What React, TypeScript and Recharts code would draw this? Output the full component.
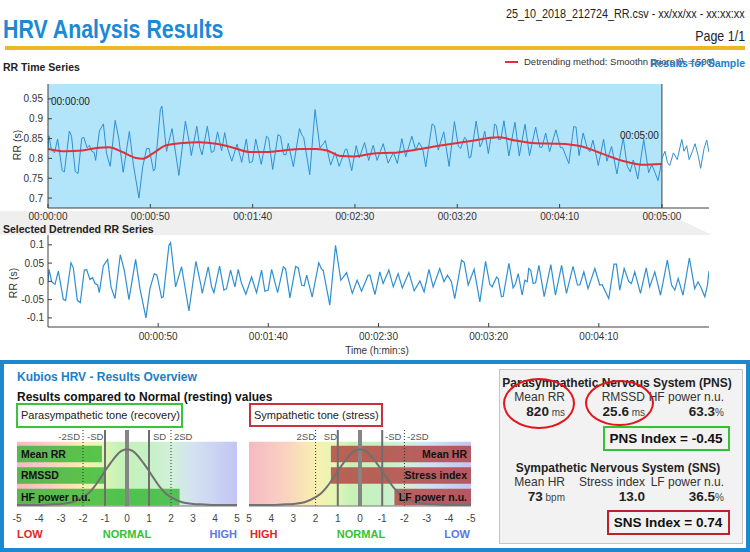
import React from 'react';
import {
  LineChart,
  ComposedChart,
  Line,
  XAxis,
  YAxis,
  ReferenceArea,
  ReferenceLine,
} from 'recharts';

// beat times (s) of the selected 0-300 s window
const beatTime = [
  0, 0.45, 1.66, 3.18, 4.69, 6.96, 8.01, 10.43, 11.49, 13.31,
  14.67, 16.48, 17.54, 19.05, 20.26, 21.32, 22.53, 23.29, 25.1, 27.07,
  28.58, 30.4, 32.81, 34.63, 36.74, 39.77, 41.73, 44.45, 46.27, 48.23,
  49.44, 51.56, 52.32, 54.89, 55.64, 57.91, 60.63, 63.96, 67.13, 69.4,
  70.0, 72.73, 74.24, 75.3, 77.87, 79.83, 81.04, 82.86, 84.82, 86.34,
  87.85, 89.81, 92.38, 94.65, 96.92, 98.43, 99.94, 101.5, 104.2, 106.8,
  107.8, 109.8, 112.4, 113.6, 115.1, 116.3, 117.4, 119.9, 122.9, 124.2,
  124.9, 127.9, 130.5, 132.9, 134.7, 135.5, 138.1, 140.3, 142.3, 145.3,
  146.1, 148.4, 150.6, 152.1, 154.7, 156.7, 158.9, 160.8, 163.8, 166.2,
  168.8, 170.7, 172.9, 174.8, 177.8, 179.7, 181.3, 183.1, 184.6, 187.7,
  188.9, 190.7, 193.4, 196.0, 198.6, 200.5, 201.6, 203.6, 204.3, 205.8,
  206.6, 209.2, 211.1, 212.2, 213.4, 215.2, 216.4, 217.5, 218.2, 219.1,
  220.2, 221.3, 222.8, 225.2, 228.2, 230.3, 233.1, 235.3, 238.3, 240.3,
  241.4, 243.2, 245.1, 248.2, 250.4, 251.5, 254.5, 256.9, 258.0, 259.5,
  261.5, 263.6, 264.8, 266.3, 268.9, 271.5, 273.1, 275.4, 278.0, 281.1,
  283.0, 284.5, 286.0, 288.2, 291.1, 293.5, 295.0, 296.2, 298.1, 299.3,
  300,
];

// RR intervals (s)
const rawRR = [
  0.824, 0.857, 0.822, 0.814, 0.849, 0.769, 0.766, 0.869, 0.856, 0.767,
  0.762, 0.851, 0.853, 0.827, 0.833, 0.818, 0.815, 0.795, 0.869, 0.887,
  0.813, 0.780, 0.896, 0.849, 0.765, 0.868, 0.784, 0.700, 0.779, 0.825,
  0.825, 0.768, 0.774, 0.923, 0.932, 0.818, 0.875, 0.757, 0.894, 0.830,
  0.807, 0.881, 0.826, 0.809, 0.881, 0.815, 0.818, 0.867, 0.819, 0.865,
  0.824, 0.793, 0.836, 0.790, 0.849, 0.789, 0.792, 0.849, 0.785, 0.856,
  0.851, 0.772, 0.860, 0.856, 0.810, 0.809, 0.838, 0.779, 0.875, 0.857,
  0.854, 0.759, 0.923, 0.826, 0.838, 0.845, 0.783, 0.815, 0.780, 0.823,
  0.823, 0.769, 0.832, 0.801, 0.840, 0.795, 0.833, 0.795, 0.837, 0.788,
  0.815, 0.787, 0.850, 0.804, 0.856, 0.821, 0.840, 0.824, 0.779, 0.887,
  0.882, 0.821, 0.867, 0.780, 0.893, 0.831, 0.825, 0.853, 0.850, 0.801,
  0.803, 0.894, 0.829, 0.841, 0.869, 0.812, 0.853, 0.850, 0.887, 0.882,
  0.847, 0.848, 0.895, 0.806, 0.891, 0.806, 0.886, 0.807, 0.879, 0.828,
  0.828, 0.864, 0.817, 0.872, 0.827, 0.827, 0.787, 0.880, 0.879, 0.807,
  0.864, 0.824, 0.817, 0.846, 0.782, 0.848, 0.793, 0.830, 0.761, 0.852,
  0.781, 0.766, 0.796, 0.748, 0.848, 0.764, 0.784, 0.770, 0.744, 0.776,
  0.800,
];

// detrended RR (s)
const detrendedRR = [
  0.000, 0.033, -0.001, -0.008, 0.028, -0.050, -0.052, 0.051, 0.037, -0.052,
  -0.058, 0.031, 0.032, 0.005, 0.010, -0.006, -0.010, -0.031, 0.042, 0.060,
  -0.015, -0.047, 0.073, 0.030, -0.050, 0.060, -0.020, -0.100, -0.020, 0.021,
  0.017, -0.045, -0.042, 0.099, 0.106, -0.015, 0.040, -0.081, 0.055, -0.010,
  -0.033, 0.040, -0.015, -0.031, 0.042, -0.024, -0.020, 0.031, -0.015, 0.033,
  -0.006, -0.035, 0.012, -0.031, 0.031, -0.027, -0.024, 0.033, -0.031, 0.040,
  0.035, -0.045, 0.041, 0.037, -0.010, -0.012, 0.017, -0.043, 0.051, 0.033,
  0.030, -0.065, 0.099, 0.003, 0.017, 0.024, -0.033, 0.003, -0.027, 0.017,
  0.017, -0.036, 0.026, -0.006, 0.031, -0.015, 0.021, -0.018, 0.024, -0.026,
  0.001, -0.029, 0.033, -0.015, 0.035, -0.001, 0.017, -0.001, -0.047, 0.058,
  0.052, -0.010, 0.033, -0.056, 0.055, -0.008, -0.015, 0.012, 0.008, -0.042,
  -0.041, 0.049, -0.018, -0.006, 0.021, -0.038, 0.003, -0.001, 0.035, 0.030,
  -0.006, -0.004, 0.044, -0.042, 0.046, -0.038, 0.044, -0.033, 0.041, -0.010,
  -0.010, 0.026, -0.020, 0.035, -0.010, -0.009, -0.047, 0.047, 0.047, -0.024,
  0.035, -0.001, -0.006, 0.026, -0.033, 0.037, -0.015, 0.026, -0.038, 0.058,
  -0.010, -0.024, 0.008, -0.038, 0.064, -0.020, -0.001, -0.015, -0.042, -0.010,
  0.028,
];

// beats after the selected window
const tailTime = [301.5, 302.7, 303.8, 305.6, 307.5, 309.7, 310.8, 312.1, 313.3, 314.9, 316.2, 317.8, 318.9, 320.6, 321.9, 323];
const tailRR = [0.818, 0.789, 0.782, 0.814, 0.797, 0.848, 0.818, 0.832, 0.797, 0.818, 0.837, 0.805, 0.775, 0.825, 0.846, 0.815];

// smoothness priors trend
const trendTime = [0, 8.5, 16.7, 24.9, 29.8, 36.4, 43, 46.2, 51.1, 57.7, 65.9, 74.1, 82.3, 90.5, 98.7, 106.9, 115.1, 123.3, 131.5, 136.4, 143, 149.5, 160.2, 168.3, 179.7, 192.7, 205.7, 220.3, 228.5, 238.2, 249.6, 261, 270.7, 282.1, 290.2, 300];
const trendRR = [0.824, 0.818, 0.820, 0.827, 0.828, 0.816, 0.801, 0.799, 0.812, 0.833, 0.839, 0.841, 0.837, 0.827, 0.816, 0.816, 0.820, 0.824, 0.824, 0.820, 0.806, 0.805, 0.813, 0.814, 0.822, 0.833, 0.843, 0.853, 0.845, 0.838, 0.837, 0.830, 0.812, 0.792, 0.784, 0.786];

const rrTicks = [0.7, 0.75, 0.8, 0.85, 0.9, 0.95];
const rrTickLabels = ['0.7', '0.75', '0.8', '0.85', '0.9', '0.95'];
const detTicks = [-0.1, -0.05, 0, 0.05, 0.1];
const detTickLabels = ['-0.1', '-0.05', '0', '0.05', '0.1'];
const timeTicks = [0, 50, 100, 150, 200, 250, 300];
const timeTickLabels = ['00:00:00', '00:00:50', '00:01:40', '00:02:30', '00:03:20', '00:04:10', '00:05:00'];
const detTimeTicks = [50, 100, 150, 200, 250];

// gauges
const scoreTicks = [-5, -4, -3, -2, -1, 0, 1, 2, 3, 4, 5];
const curveX = [-5, -4.5, -4, -3.5, -3, -2.5, -2, -1.75, -1.5, -1.25, -1, -0.75, -0.5, -0.25, 0, 0.25, 0.5, 0.75, 1, 1.25, 1.5, 1.75, 2, 2.5, 3, 3.5, 4, 4.5, 5];
const curveY = [0, 0, 0, 0.01, 0.02, 0.05, 0.14, 0.21, 0.32, 0.46, 0.61, 0.75, 0.88, 0.97, 1, 0.97, 0.88, 0.75, 0.61, 0.46, 0.32, 0.21, 0.14, 0.05, 0.02, 0.01, 0, 0, 0];
const pnsParams = ['Mean RR', 'RMSSD', 'HF power n.u.'];
const pnsScores = [-1.14, -1.03, 2.39];
const snsParams = ['Mean HR', 'Stress index', 'LF power n.u.'];
const snsScores = [1.31, 1.31, -1.55];

const SANS = '"Liberation Sans", Arial, sans-serif';
const AXIS = '#404040';
const RR_BLUE = '#2f8fd0';

const rrData = beatTime.map((t, i) => ({ t, v: rawRR[i] })).concat(tailTime.map((t, i) => ({ t, v: tailRR[i] })));
const trendData = trendTime.map((t, i) => ({ t, v: trendRR[i] }));
const detData = beatTime.map((t, i) => ({ t, v: detrendedRR[i] }));
const curveData = curveX.map((x, i) => ({ x, y: curveY[i] }));

const lab = (ticks: number[], labels: string[]) => (v: number) => labels[ticks.indexOf(v)] ?? '';

type TxtProps = {
  x: number; y: number; a?: 'left' | 'right' | 'center'; s?: number; c?: string;
  b?: boolean; sx?: number; w?: number; children: React.ReactNode;
};
// absolutely placed text, y is the line centre; sx squeezes it like a narrow face
const Txt = ({ x, y, a = 'left', s = 12, c = '#222', b = false, sx = 1, w = 400, children }: TxtProps) => {
  const st: React.CSSProperties = {
    position: 'absolute', top: y - 10, height: 20, lineHeight: '20px', fontSize: s, color: c,
    fontWeight: b ? 700 : 400, whiteSpace: 'nowrap', fontFamily: SANS,
  };
  if (a === 'left') st.left = x;
  else if (a === 'right') st.right = 750 - x;
  else { st.left = x - w / 2; st.width = w; st.textAlign = 'center'; }
  if (sx !== 1) {
    st.transform = `scaleX(${sx})`;
    st.transformOrigin = a === 'right' ? 'right center' : a === 'left' ? 'left center' : 'center center';
  }
  return <div style={st}>{children}</div>;
};

const Box = ({ l, t, w, h, c, bw = 2 }: { l: number; t: number; w: number; h: number; c: string; bw?: number }) => (
  <div style={{ position: 'absolute', left: l, top: t, width: w, height: h, border: `${bw}px solid ${c}`, boxSizing: 'border-box' }} />
);

const Ellipse = ({ l, t, w, h }: { l: number; t: number; w: number; h: number }) => (
  <div style={{ position: 'absolute', left: l, top: t, width: w, height: h, border: '2.5px solid #e3151b', borderRadius: '50%', boxSizing: 'border-box' }} />
);

const tickStyle = { fontSize: 10, fill: '#333' };

const Gauge = ({ params, scores, reversed, left, width, ml, mr, barColor, gid }: {
  params: string[]; scores: number[]; reversed: boolean; left: number; width: number;
  ml: number; mr: number; barColor: string; gid: string;
}) => (
  <div style={{ position: 'absolute', left, top: 420 }}>
    <ComposedChart width={width} height={106} data={curveData} margin={{ top: 10, right: mr, left: ml, bottom: 0 }}>
      <defs>
        <linearGradient id={gid} x1="0" y1="0" x2="1" y2="0">
          <stop offset="0" stopColor="#f5b9c2" />
          <stop offset="0.15" stopColor="#f9d0c2" />
          <stop offset="0.3" stopColor="#f9efb0" />
          <stop offset="0.38" stopColor="#e6f6b4" />
          <stop offset="0.46" stopColor="#c6f2b8" />
          <stop offset="0.6" stopColor="#c6f1c6" />
          <stop offset="0.7" stopColor="#d2f0d8" />
          <stop offset="0.8" stopColor="#d3e2f2" />
          <stop offset="1" stopColor="#c3c5f3" />
        </linearGradient>
      </defs>
      <XAxis dataKey="x" type="number" domain={[-5, 5]} ticks={scoreTicks} reversed={reversed} allowDataOverflow
        tickLine={false} tickMargin={3} stroke="#777" tick={{ fontSize: 10, fill: '#444' }} height={20} interval={0} />
      <YAxis yAxisId="curve" hide domain={[-0.018, 1.346]} allowDataOverflow />
      <YAxis yAxisId="rows" hide reversed domain={[-0.546, 3]} allowDataOverflow />
      <ReferenceArea yAxisId="rows" x1={-5} x2={5} y1={0} y2={3} fill={`url(#${gid})`} fillOpacity={1} />
      {scores.map((s, i) => (
        <ReferenceArea key={params[i]} yAxisId="rows" x1={-5} x2={s} y1={i + 0.19} y2={i + 0.96}
          fill={barColor} fillOpacity={0.78}
          label={{ value: params[i], position: reversed ? 'insideRight' : 'insideLeft', offset: 4, fill: '#111', fontSize: 10.5, fontWeight: 700 }} />
      ))}
      <ReferenceLine yAxisId="rows" x={-2} stroke="#333" strokeDasharray="1 2" />
      <ReferenceLine yAxisId="rows" x={2} stroke="#333" strokeDasharray="1 2" />
      <ReferenceLine yAxisId="rows" x={-1} stroke="#6e6e6e" strokeWidth={2} />
      <ReferenceLine yAxisId="rows" x={1} stroke="#6e6e6e" strokeWidth={2} />
      <ReferenceLine yAxisId="rows" x={0} stroke="#858585" strokeWidth={4} />
      <Line yAxisId="curve" dataKey="y" type="monotone" stroke="#707070" strokeWidth={2} dot={false} isAnimationActive={false} />
    </ComposedChart>
  </div>
);

export default function App() {
  return (
    <div style={{ position: 'absolute', left: 0, top: 0, width: 750, height: 552, background: '#fff', overflow: 'hidden', fontFamily: SANS }}>
      {/* header */}
      <Txt x={3} y={29} s={26} b c="#1a8ad6" sx={0.82}>HRV Analysis Results</Txt>
      <Txt x={745} y={14} a="right" s={13} c="#222" sx={0.83}>25_10_2018_212724_RR.csv - xx/xx/xx - xx:xx:xx</Txt>
      <Txt x={745} y={36} a="right" s={15} c="#222" sx={0.83}>Page 1/1</Txt>
      <div style={{ position: 'absolute', left: 5, top: 46, width: 740, height: 4, background: '#e9b824' }} />

      {/* RR time series */}
      <Txt x={3} y={67} s={10.5} b>RR Time Series</Txt>
      <div style={{ position: 'absolute', left: 505, top: 61, width: 13, height: 2, background: '#e0303a' }} />
      <Txt x={524} y={62} s={9.5} c="#333">Detrending method: Smoothn priors (λ = 500)</Txt>
      <Txt x={745} y={63} a="right" s={10.5} b c="#1a7fcf">Results for Sample</Txt>

      <div style={{ position: 'absolute', left: 0, top: 211, width: 712, height: 24, background: '#efefef', clipPath: 'polygon(0 0, 662px 0, 712px 100%, 0 100%)' }} />

      <div style={{ position: 'absolute', left: 0, top: 70 }}>
        <LineChart width={720} height={160} margin={{ top: 14, right: 11, left: 0, bottom: 0 }}>
          <XAxis xAxisId="b" type="number" dataKey="t" domain={[0, 323]} ticks={timeTicks} interval={0}
            tickFormatter={lab(timeTicks, timeTickLabels)} height={22} stroke={AXIS} tickSize={-4} tickMargin={9} tick={tickStyle} allowDataOverflow />
          <XAxis xAxisId="top" orientation="top" type="number" dataKey="t" domain={[0, 323]} ticks={timeTicks.slice(1)} interval={0}
            tick={false} height={0} stroke={AXIS} tickSize={-4} allowDataOverflow />
          <YAxis yAxisId="l" type="number" domain={[0.675, 0.9875]} ticks={rrTicks} interval={0}
            tickFormatter={lab(rrTicks, rrTickLabels)} width={48} stroke={AXIS} tickSize={-4} tickMargin={9} tick={tickStyle} allowDataOverflow />
          <YAxis yAxisId="r" orientation="right" type="number" domain={[0.675, 0.9875]} ticks={rrTicks} interval={0}
            tick={false} width={0} stroke={AXIS} tickSize={-4} allowDataOverflow />
          <ReferenceArea xAxisId="b" yAxisId="l" x1={0} x2={300} fill="#b3e5fa" fillOpacity={1} />
          <ReferenceLine xAxisId="b" yAxisId="l" x={300} stroke={AXIS} />
          <Line xAxisId="b" yAxisId="l" data={rrData} dataKey="v" type="linear" stroke={RR_BLUE} strokeWidth={1} dot={false} isAnimationActive={false} />
          <Line xAxisId="b" yAxisId="l" data={trendData} dataKey="v" type="monotone" stroke="#e0303a" strokeWidth={2} dot={false} isAnimationActive={false} />
        </LineChart>
      </div>
      <Txt x={51} y={102} s={10}>00:00:00</Txt>
      <Txt x={620} y={136} s={10}>00:05:00</Txt>
      <div style={{ position: 'absolute', left: 17, top: 145, transform: 'translate(-50%, -50%) rotate(-90deg)', fontSize: 10.5, color: '#333', whiteSpace: 'nowrap' }}>RR (s)</div>

      {/* detrended series */}
      <Txt x={3} y={229} s={10.5} b>Selected Detrended RR Series</Txt>
      <div style={{ position: 'absolute', left: 0, top: 225 }}>
        <LineChart width={720} height={125} margin={{ top: 10, right: 11, left: 0, bottom: 0 }}>
          <XAxis xAxisId="b" type="number" dataKey="t" domain={[0, 300]} ticks={detTimeTicks} interval={0}
            tickFormatter={lab(timeTicks, timeTickLabels)} height={23} stroke={AXIS} tickSize={-4} tickMargin={10} tick={tickStyle} allowDataOverflow />
          <XAxis xAxisId="top" orientation="top" type="number" dataKey="t" domain={[0, 300]} ticks={detTimeTicks} interval={0}
            tick={false} height={0} stroke={AXIS} tickSize={-4} allowDataOverflow />
          <YAxis yAxisId="l" type="number" domain={[-0.125, 0.127]} ticks={detTicks} interval={0}
            tickFormatter={lab(detTicks, detTickLabels)} width={48} stroke={AXIS} tickSize={-4} tickMargin={8} tick={tickStyle} allowDataOverflow />
          <YAxis yAxisId="r" orientation="right" type="number" domain={[-0.125, 0.127]} ticks={detTicks} interval={0}
            tick={false} width={0} stroke={AXIS} tickSize={-4} allowDataOverflow />
          <Line xAxisId="b" yAxisId="l" data={detData} dataKey="v" type="linear" stroke={RR_BLUE} strokeWidth={1.2} dot={false} isAnimationActive={false} />
        </LineChart>
      </div>
      <div style={{ position: 'absolute', left: 13, top: 283, transform: 'translate(-50%, -50%) rotate(-90deg)', fontSize: 10.5, color: '#333', whiteSpace: 'nowrap' }}>RR (s)</div>
      <Txt x={377} y={351} a="center" s={10} c="#333">Time (h:min:s)</Txt>

      {/* results overview panel */}
      <div style={{ position: 'absolute', left: 0, top: 360, width: 750, height: 192, border: '4px solid #1e88cf', boxSizing: 'border-box' }} />
      <Txt x={17} y={377} s={12} b c="#1c7ec8">Kubios HRV - Results Overview</Txt>
      <Txt x={17} y={397} s={12} b c="#111">Results compared to Normal (resting) values</Txt>
      <Box l={16} t={403} w={167} h={25} c="#3cc23c" />
      <Txt x={21} y={415} s={11} c="#222">Parasympathetic tone (recovery)</Txt>
      <Box l={249} t={403} w={134} h={24} c="#c8323c" />
      <Txt x={254} y={415} s={11} c="#222">Sympathetic tone (stress)</Txt>

      <Gauge params={pnsParams} scores={pnsScores} reversed={false} left={0} width={250} ml={17} mr={13} barColor="#2fb52f" gid="gradPns" />
      <Gauge params={snsParams} scores={snsScores} reversed left={240} width={245} ml={9} mr={14} barColor="#b03838" gid="gradSns" />

      <Txt x={80} y={437} a="right" s={9.5} c="#555">-2SD</Txt>
      <Txt x={87} y={437} s={9.5} c="#555">-SD</Txt>
      <Txt x={153} y={437} s={9.5} c="#555">SD</Txt>
      <Txt x={174} y={437} s={9.5} c="#555">2SD</Txt>
      <Txt x={315} y={437} a="right" s={9.5} c="#555">2SD</Txt>
      <Txt x={337} y={437} a="right" s={9.5} c="#555">SD</Txt>
      <Txt x={385} y={437} s={9.5} c="#555">-SD</Txt>
      <Txt x={407} y={437} s={9.5} c="#555">-2SD</Txt>

      <Txt x={17} y={534} s={11} b c="#e02626">LOW</Txt>
      <Txt x={127} y={534} a="center" w={100} s={11} b c="#33c233">NORMAL</Txt>
      <Txt x={237} y={534} a="right" s={11} b c="#5a78e6">HIGH</Txt>
      <Txt x={250} y={534} s={11} b c="#e02626">HIGH</Txt>
      <Txt x={361} y={534} a="center" w={100} s={11} b c="#33c233">NORMAL</Txt>
      <Txt x={470} y={534} a="right" s={11} b c="#5a78e6">LOW</Txt>

      {/* stats box */}
      <div style={{ position: 'absolute', left: 499, top: 369, width: 244, height: 175, border: '1px solid #c4c4c4', background: '#f2f2f2', boxSizing: 'border-box' }} />
      <Txt x={617} y={383} a="center" s={12} b c="#222">Parasympathetic Nervous System (PNS)</Txt>
      <Txt x={565} y={397} a="right" s={12} c="#333">Mean RR</Txt>
      <Txt x={645} y={397} a="right" s={12} c="#333">RMSSD</Txt>
      <Txt x={724} y={397} a="right" s={12} c="#333">HF power n.u.</Txt>
      <Txt x={565} y={412} a="right" s={13.5} b c="#222"><span>820</span><span style={{ fontSize: 10, fontWeight: 400, color: '#444' }}> ms</span></Txt>
      <Txt x={645} y={412} a="right" s={13.5} b c="#222"><span>25.6</span><span style={{ fontSize: 10, fontWeight: 400, color: '#444' }}> ms</span></Txt>
      <Txt x={724} y={412} a="right" s={13.5} b c="#222"><span>63.3</span><span style={{ fontSize: 10, fontWeight: 400, color: '#444' }}>%</span></Txt>
      <Box l={603} t={426} w={127} h={25} c="#33c233" />
      <Txt x={666} y={438.5} a="center" s={13.5} b c="#111">PNS Index = -0.45</Txt>

      <Txt x={618} y={468} a="center" s={12} b c="#222">Sympathetic Nervous System (SNS)</Txt>
      <Txt x={565} y={482} a="right" s={12} c="#333">Mean HR</Txt>
      <Txt x={645} y={482} a="right" s={12} c="#333">Stress index</Txt>
      <Txt x={724} y={482} a="right" s={12} c="#333">LF power n.u.</Txt>
      <Txt x={565} y={497} a="right" s={13.5} b c="#222"><span>73</span><span style={{ fontSize: 10, fontWeight: 400, color: '#444' }}> bpm</span></Txt>
      <Txt x={645} y={497} a="right" s={13.5} b c="#222">13.0</Txt>
      <Txt x={724} y={497} a="right" s={13.5} b c="#222"><span>36.5</span><span style={{ fontSize: 10, fontWeight: 400, color: '#444' }}>%</span></Txt>
      <Box l={607} t={510} w={123} h={25} c="#c0202e" />
      <Txt x={668} y={522.5} a="center" s={13.5} b c="#111">SNS Index = 0.74</Txt>

      <Ellipse l={503} t={378} w={72} h={51} />
      <Ellipse l={585} t={380} w={69} h={46} />
    </div>
  );
}
